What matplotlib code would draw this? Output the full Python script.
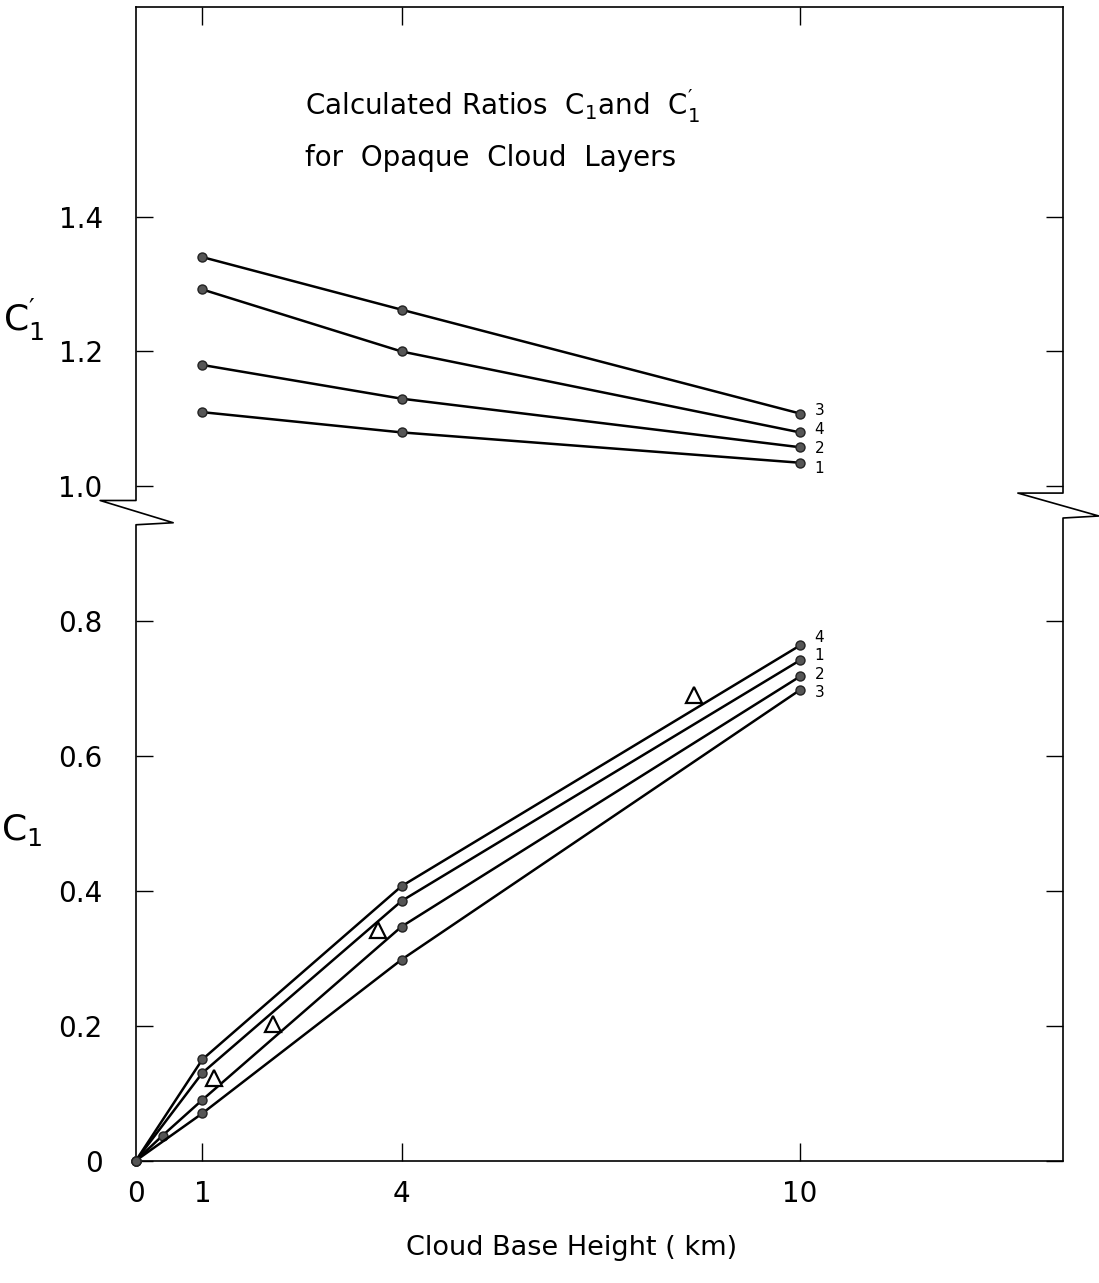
import numpy as np
import matplotlib
matplotlib.use('Agg')
import matplotlib.pyplot as plt

plt.rcParams['font.family'] = ['DejaVu Sans']
plt.rcParams['mathtext.default'] = 'regular'

# upper panel: C1' at cloud base heights 1, 4, 10 km
x_upper = [1, 4, 10]
c1p_1 = [1.11, 1.08, 1.035]
c1p_2 = [1.18, 1.13, 1.058]
c1p_3 = [1.34, 1.262, 1.108]
c1p_4 = [1.292, 1.20, 1.08]

# lower panel: C1
x_c1_1 = [0, 1, 4, 10]
c1_1 = [0, 0.13, 0.385, 0.742]
x_c1_2 = [0, 0.4, 1, 4, 10]
c1_2 = [0, 0.037, 0.09, 0.347, 0.718]
x_c1_3 = [0, 1, 4, 10]
c1_3 = [0, 0.07, 0.298, 0.698]
x_c1_4 = [0, 1, 4, 10]
c1_4 = [0, 0.15, 0.407, 0.764]

# triangles (observed)
tri_x = [1.17, 2.07, 3.65, 8.4]
tri_y = [0.123, 0.203, 0.342, 0.69]

upper_labels = ['3', '4', '2', '1']
lower_labels = ['4', '1', '2', '3']

yticks = [0, 0.2, 0.4, 0.6, 0.8, 1.0, 1.2, 1.4]
ytick_labels = ['0', '0.2', '0.4', '0.6', '0.8', '1.0', '1.2', '1.4']
xticks = [0, 1, 4, 10]

fig = plt.figure(figsize=(10.99, 12.83), dpi=100)
ax = fig.add_axes([136 / 1099, 1 - 1160.5 / 1283, (1063 - 136) / 1099, (1160.5 - 7) / 1283])
ax.set_xlim(0, 13.96)
ax.set_ylim(0, 1.711)

line_kw = dict(color='black', lw=1.8, marker='o', ms=6.5, mfc='#555555', mec='#222222',
               mew=1.0, clip_on=False, zorder=3)

for ys in [c1p_1, c1p_2, c1p_3, c1p_4]:
    ax.plot(x_upper, ys, **line_kw)
for xs, ys in [(x_c1_1, c1_1), (x_c1_2, c1_2), (x_c1_3, c1_3), (x_c1_4, c1_4)]:
    ax.plot(xs, ys, **line_kw)

ax.plot(tri_x, tri_y, ls='none', marker='^', ms=12, mfc='white', mec='black', mew=1.6, zorder=4)

# curve numbers at the right end
up_ends = [c1p_3[-1], c1p_4[-1], c1p_2[-1], c1p_1[-1]]
up_dy = [2.5, 2.4, -0.6, -3.8]
for lab, y, dy in zip(upper_labels, up_ends, up_dy):
    ax.annotate(lab, (10, y), xytext=(14, dy), textcoords='offset points',
                ha='center', va='center', fontsize=11)
lo_ends = [c1_4[-1], c1_1[-1], c1_2[-1], c1_3[-1]]
lo_dy = [6, 3.4, 1.7, -1.8]
for lab, y, dy in zip(lower_labels, lo_ends, lo_dy):
    ax.annotate(lab, (10, y), xytext=(14, dy), textcoords='offset points',
                ha='center', va='center', fontsize=11)

# axes frame with break marks
ax.spines['left'].set_visible(False)
ax.spines['right'].set_visible(False)
for s in ['top', 'bottom']:
    ax.spines[s].set_linewidth(1.2)

frame_kw = dict(color='black', lw=1.2, clip_on=False, zorder=2)
ax.plot([0, 0, -0.54, 0.56, 0, 0], [1.711, 0.979, 0.979, 0.946, 0.943, 0], **frame_kw)
ax.plot([13.96, 13.96, 13.28, 14.5, 13.96, 13.96], [1.711, 0.990, 0.990, 0.956, 0.953, 0], **frame_kw)

ax.set_yticks(yticks)
ax.set_yticklabels(ytick_labels)
ax.set_xticks(xticks)
ax.set_xticklabels(['0', '1', '4', '10'])
ax.tick_params(axis='y', which='both', direction='in', length=12, width=1.0,
               left=True, right=True, labelsize=20, pad=24)
ax.tick_params(axis='x', which='both', direction='in', length=13, width=1.0,
               top=True, bottom=True, labelsize=20, pad=14)
ax.get_xticklines()[0].set_visible(False)
ax.get_xticklines()[1].set_visible(False)

ax.set_xlabel('Cloud Base Height ( km)', fontsize=19.5)
ax.xaxis.set_label_coords(0.47, -0.065)

fig.text(24 / 1099, 1 - 320 / 1283, r"$C_1^{\prime}$", fontsize=26, ha='center', va='center')
fig.text(22 / 1099, 1 - 830 / 1283, r"$C_1$", fontsize=26, ha='center', va='center')

fig.text(305 / 1099, 1 - 115 / 1283, r"Calculated Ratios  $C_1$and  $C_1^{\prime}$", fontsize=20,
         ha='left', va='baseline')
fig.text(305 / 1099, 1 - 166 / 1283, 'for  Opaque  Cloud  Layers', fontsize=20,
         ha='left', va='baseline')

fig.savefig('out.png', dpi=100)
